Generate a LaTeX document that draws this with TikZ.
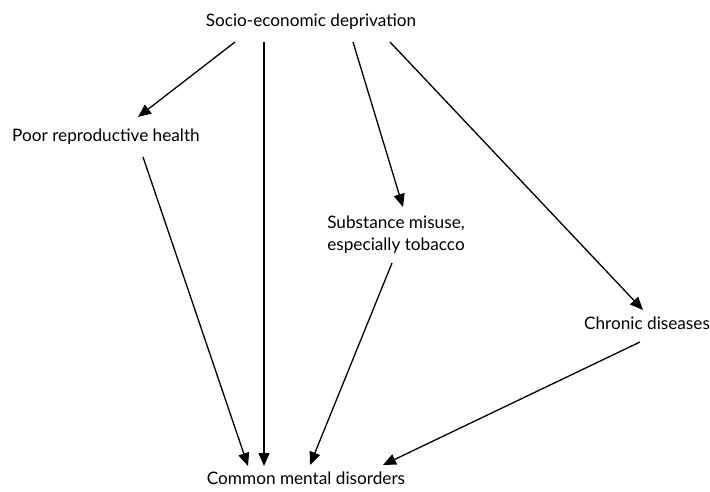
\documentclass[tikz,border=0pt]{standalone}
\usepackage{fontspec}
\setmainfont{Lato}
\usetikzlibrary{arrows.meta}
\tikzset{
  lbl/.style={inner sep=0pt, anchor=base, font=\fontsize{17.2}{22}\selectfont},
  arr/.style={line width=1.3pt, -{Triangle[length=13pt,width=11pt]}}
}
\begin{document}
\begin{tikzpicture}[x=1pt,y=-1pt]
			\useasboundingbox (0,0) rectangle (710,492);
			\node[lbl] (dep) at (311,27) {Socio-economic deprivation};
			\node[lbl] (poor) at (106,142) {Poor reproductive health};
			\node[lbl, anchor=north, align=center] (subst) at (396,216) {Substance misuse,\\especially tobacco};
			\node[lbl] (chron) at (647,329) {Chronic diseases};
			\node[lbl] (cmd) at (306,484) {Common mental disorders};
			% from deprivation
			\draw[arr] ([xshift=-76pt,yshift=-15pt]dep.base) -- ([xshift=32pt,yshift=25pt]poor.base);
			\draw[arr] ([xshift=-47pt,yshift=-15pt]dep.base) -- ([xshift=-42pt,yshift=18pt]cmd.base);
			\draw[arr] ([xshift=42pt,yshift=-15pt]dep.base) -- ([xshift=7pt,yshift=9pt]subst.north);
			\draw[arr] ([xshift=79pt,yshift=-15pt]dep.base) -- ([xshift=-4pt,yshift=19pt]chron.base);
			% into common mental disorders
			\draw[arr] ([xshift=37pt,yshift=-15pt]poor.base) -- ([xshift=-58pt,yshift=18pt]cmd.base);
			\draw[arr] ([xshift=-4pt,yshift=-9pt]subst.south) -- ([xshift=4pt,yshift=19pt]cmd.base);
			\draw[arr] ([xshift=-7pt,yshift=-13pt]chron.base) -- ([xshift=77pt,yshift=19pt]cmd.base);
\end{tikzpicture}
\end{document}
